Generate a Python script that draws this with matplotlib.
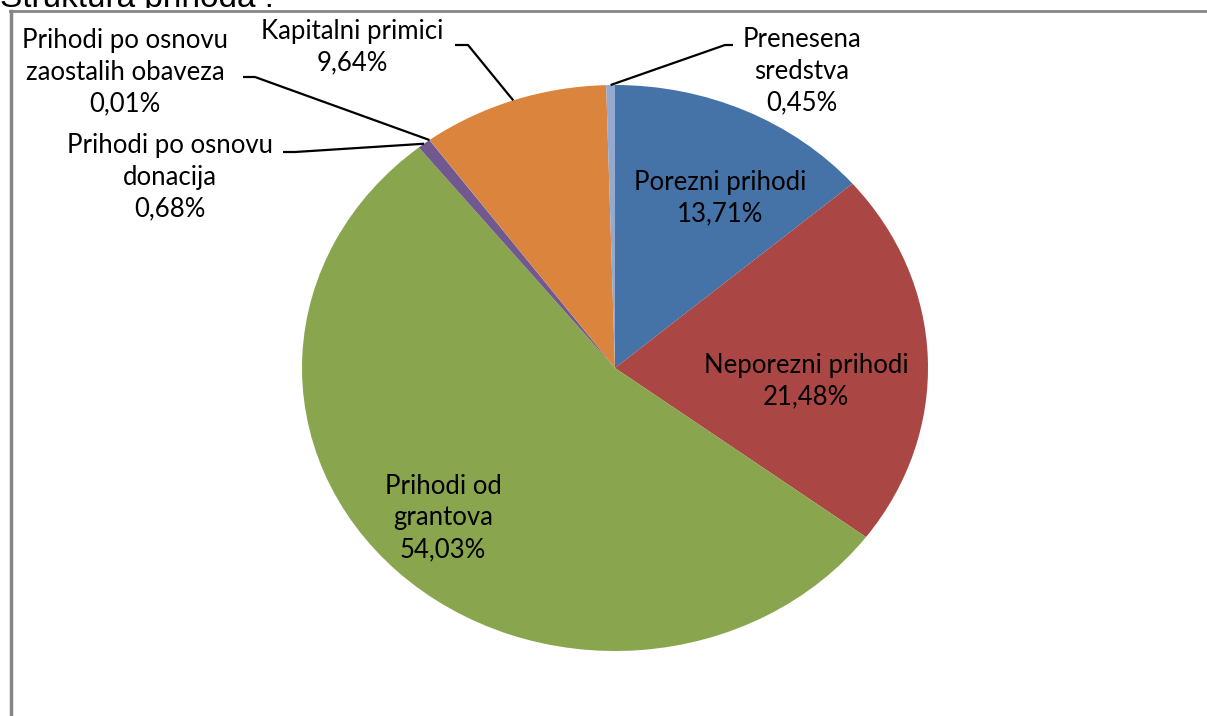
import numpy as np
import matplotlib
matplotlib.use("Agg")
import matplotlib.pyplot as plt
from matplotlib.lines import Line2D
from matplotlib.transforms import Bbox

# data (clockwise from 12 o'clock)
labels = ["Porezni prihodi", "Neporezni prihodi", "Prihodi od\ngrantova",
          "Prihodi po osnovu\ndonacija", "Prihodi po osnovu\nzaostalih obaveza",
          "Kapitalni primici", "Prenesena\nsredstva"]
shares = [13.71, 21.48, 54.03, 0.68, 0.01, 9.64, 0.45]
colors = ["#4572A7", "#AA4643", "#89A54E", "#71588F", "#4198AF", "#DB843D", "#93A9CF"]

W, H = 1207, 716
cx, cy = 615, 368          # pie centre in pixels (from top)
rx, ry = 313, 283          # the chart is slightly stretched horizontally

fig = plt.figure(figsize=(W / 100, H / 100), dpi=100)
ax = fig.add_axes([0, 0, 1, 1])
ax.pie(shares, colors=colors, startangle=90, counterclock=False,
       radius=1, wedgeprops=dict(linewidth=0))
ax.set_aspect("auto")
ax.set_xlim(-cx / rx, (W - cx) / rx)
ax.set_ylim(-(H - cy) / ry, cy / ry)
ax.axis("off")


def px(x, y):
    # pixel position -> data coords
    return (x - cx) / rx, (cy - y) / ry


font = dict(family=["Lato", "DejaVu Sans"], fontsize=18.5, linespacing=1.33,
            ha="center", va="center", color="black")

# inside labels: (x, y) pixel centres
inside = {0: (720, 198), 1: (806, 381), 2: (443, 518)}
for i, (x, y) in inside.items():
    ax.text(*px(x, y), f"{labels[i]}\n{shares[i]:.2f}%".replace(".", ","), **font)

# outside labels: text centre, elbow start, elbow end (pixels)
outside = {
    5: ((352, 47), (455, 45), (468, 45)),
    6: ((802, 71), (733, 45), (725, 45)),
    4: ((125, 72), (243, 77), (255, 77)),
    3: ((170, 177), (283, 152), (295, 152)),
}
cum = np.cumsum([0] + shares[:-1])
for i, (tpos, e0, e1) in outside.items():
    ax.text(*px(*tpos), f"{labels[i]}\n{shares[i]:.2f}%".replace(".", ","), **font)
    mid = np.deg2rad((cum[i] + shares[i] / 2) / 100 * 360)
    tip = (np.sin(mid), np.cos(mid))
    xs = [px(*e0)[0], px(*e1)[0], tip[0]]
    ys = [px(*e0)[1], px(*e1)[1], tip[1]]
    ax.plot(xs, ys, color="black", lw=1.6, solid_capstyle="butt")

# chart area border (top and left visible)
fig.add_artist(Line2D([10 / W, 1], [1 - 11 / H, 1 - 11 / H], color="#868686", lw=2))
fig.add_artist(Line2D([11 / W, 11 / W], [0, 1 - 11 / H], color="#868686", lw=2.5))

# title, cut off by the top edge
title = fig.text(0.0, 1 - 7 / H, "Struktura prihoda :",
                 family=["Liberation Sans", "DejaVu Sans"],
                 fontsize=24, ha="left", va="baseline")
title.set_clip_box(Bbox.from_extents(0, H - 8, W, H))
title.set_clip_on(True)

fig.savefig("out.png", dpi=100)
